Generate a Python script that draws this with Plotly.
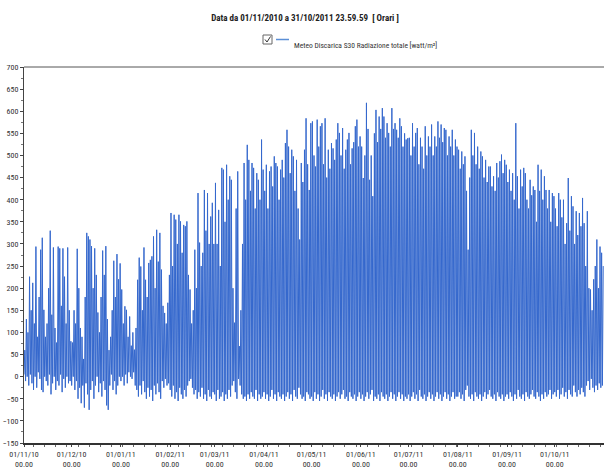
import pandas as pd
import plotly.graph_objects as go

# Daily peak (midday) global radiation, W/m2, Nov 2010 -> Oct 2011
peak_nov = [60, 130, 100, 226, 150, 212, 120, 294, 90, 180, 287, 314, 151, 90, 120, 200, 330, 140, 292, 110,
            77, 294, 290, 160, 290, 226, 120, 292, 150, 80]
peak_dec = [77, 150, 120, 289, 200, 110, 90, 40, 180, 325, 317, 310, 295, 200, 290, 230, 145, 100, 180, 285,
            230, 295, 130, 60, 90, 150, 262, 180, 277, 220, 256]
peak_jan = [197, 120, 159, 151, 90, 136, 70, 100, 61, 110, 219, 269, 249, 150, 292, 219, 180, 257, 264, 272,
            317, 200, 332, 260, 325, 242, 160, 144, 120, 167, 230]
peak_feb = [370, 250, 366, 355, 300, 366, 351, 280, 343, 340, 351, 230, 197, 120, 150, 287, 200, 415, 303, 250,
            280, 422, 330, 415, 300, 362, 393, 300]
peak_mar = [438, 300, 377, 250, 472, 468, 350, 479, 400, 453, 445, 200, 122, 380, 464, 69, 150, 300, 483, 400,
            524, 490, 420, 483, 472, 380, 460, 445, 400, 536, 468]
peak_apr = [420, 479, 380, 464, 475, 430, 498, 483, 475, 400, 468, 490, 450, 528, 558, 520, 460, 513, 498, 420,
            490, 380, 310, 483, 440, 513, 584, 480, 422, 573]
peak_may = [577, 500, 475, 581, 520, 566, 573, 480, 584, 450, 513, 470, 528, 516, 490, 536, 573, 551, 500, 562,
            470, 513, 536, 551, 480, 516, 530, 566, 581, 520, 543]
peak_jun = [520, 449, 500, 619, 560, 445, 500, 408, 550, 603, 530, 588, 560, 607, 588, 540, 573, 551, 520, 607,
            560, 573, 558, 540, 584, 566, 520, 550, 536, 539]
peak_jul = [540, 500, 573, 520, 551, 562, 480, 540, 520, 470, 566, 500, 543, 520, 570, 500, 543, 520, 577, 540,
            570, 530, 562, 558, 500, 543, 520, 558, 500, 536, 520]
peak_aug = [513, 470, 509, 480, 498, 420, 287, 450, 558, 500, 551, 480, 520, 470, 509, 498, 450, 490, 440, 475,
            475, 430, 453, 420, 483, 450, 487, 502, 460, 490, 479]
peak_sep = [440, 468, 420, 460, 400, 573, 453, 380, 468, 430, 472, 460, 400, 380, 445, 410, 430, 422, 350, 479,
            420, 468, 400, 453, 422, 380, 422, 350, 415, 408]
peak_oct = [380, 340, 415, 400, 360, 400, 300, 347, 449, 330, 408, 385, 300, 374, 320, 370, 340, 404, 347, 250,
            374, 200, 197, 150, 220, 250, 310, 200, 294, 280, 250]

# Night-time minimum values, W/m2
low_nov = [5, -10, 0, -20, 5, -15, -30, 0, -25, 10, -5, -30, -35, 0, -10, -20, 5, -40, -15, 0,
           -30, -10, -20, 5, -35, -5, -25, 0, -15, -10]
low_dec = [-20, 0, -30, -10, -50, -25, -60, -20, -70, -15, -40, -75, -30, -10, -50, -20, 0, -35, -15, -45,
           -10, -30, -65, -75, -20, 5, -30, -10, -40, -20, 0]
low_jan = [-10, 0, -20, 5, -15, 10, 0, -5, 10, -20, -30, -45, -20, -40, -10, -35, -50, -25, -45, -30,
           -55, -20, -40, -15, -35, -50, -10, -25, -5, -20, -15]
low_feb = [-30, -45, -20, -50, -35, -55, -25, -40, -50, -30, -45, -20, -10, -5, -25, -40, -30, -50, -35, -45,
           -25, -50, -40, -55, -30, -45, -50, -35]
low_mar = [-40, -55, -30, -50, -45, -35, -55, -40, -50, -30, -45, -20, -10, -35, -50, -5, -20, -40, -50, -45,
           -55, -40, -50, -35, -45, -50, -30, -55, -40, -50, -45]
low_apr = [-35, -50, -40, -55, -45, -30, -50, -40, -55, -35, -45, -50, -40, -55, -45, -35, -50, -40, -55, -30,
           -45, -50, -25, -40, -50, -45, -55, -35, -40, -50]
low_may = [-45, -55, -35, -50, -40, -55, -45, -30, -50, -40, -55, -35, -45, -50, -40, -55, -45, -35, -50, -40,
           -30, -50, -45, -55, -35, -45, -50, -40, -55, -45, -35]
low_jun = [-50, -40, -55, -45, -35, -50, -40, -30, -55, -45, -50, -40, -55, -35, -45, -50, -40, -55, -45, -35,
           -50, -40, -55, -45, -35, -50, -40, -55, -45, -50]
low_jul = [-40, -55, -45, -35, -50, -40, -55, -30, -45, -50, -40, -55, -45, -35, -50, -40, -55, -45, -35, -50,
           -40, -55, -45, -35, -50, -40, -55, -45, -35, -50, -45]
low_aug = [-45, -35, -50, -40, -55, -30, -20, -45, -50, -40, -55, -35, -45, -50, -40, -55, -45, -35, -50, -40,
           -30, -45, -50, -40, -55, -35, -45, -50, -40, -55, -45]
low_sep = [-40, -50, -35, -45, -55, -40, -50, -30, -45, -50, -40, -55, -35, -45, -50, -40, -30, -45, -50, -35,
           -45, -55, -40, -50, -35, -45, -40, -30, -50, -40]
low_oct = [-35, -45, -30, -50, -40, -25, -45, -35, -50, -30, -40, -45, -20, -35, -45, -30, -40, -25, -35, -45,
           -20, -10, -30, -5, -25, -35, -20, -30, -15, -25, -20]

month_ticks = ["2010-11-01", "2010-12-01", "2011-01-01", "2011-02-01", "2011-03-01", "2011-04-01",
               "2011-05-01", "2011-06-01", "2011-07-01", "2011-08-01", "2011-09-01", "2011-10-01"]
month_labels = ["01/11/10<br>00.00", "01/12/10<br>00.00", "01/01/11<br>00.00", "01/02/11<br>00.00",
                "01/03/11<br>00.00", "01/04/11<br>00.00", "01/05/11<br>00.00", "01/06/11<br>00.00",
                "01/07/11<br>00.00", "01/08/11<br>00.00", "01/09/11<br>00.00", "01/10/11<br>00.00"]

series_name = "Meteo Discarica S30 Radiazione totale [watt/m²]"
title_text = "Data da 01/11/2010 a 31/10/2011 23.59.59  [ Orari ]"

peaks = (peak_nov + peak_dec + peak_jan + peak_feb + peak_mar + peak_apr + peak_may + peak_jun +
         peak_jul + peak_aug + peak_sep + peak_oct)
lows = (low_nov + low_dec + low_jan + low_feb + low_mar + low_apr + low_may + low_jun +
        low_jul + low_aug + low_sep + low_oct)

days = pd.date_range("2010-11-01", periods=len(peaks), freq="D")
xs, ys = [], []
for d, lo, pk in zip(days, lows, peaks):
    xs.append(d)
    ys.append(lo)
    xs.append(d + pd.Timedelta(hours=12))
    ys.append(pk)

FONT = "Roboto Condensed, DejaVu Sans Condensed, Liberation Sans"
W, H = 604, 469
L, T, R, B = 24, 67, 0, 26
PW, PH = W - L - R, H - T - B


def px(xw):
    return (xw - L) / PW


def py(yw):
    return (H - B - yw) / PH


fig = go.Figure()
fig.add_trace(go.Scatter(
    x=xs, y=ys, mode="lines",
    line=dict(color="#3568cd", width=1),
    name=series_name, showlegend=False,
))

fig.update_layout(
    width=W, height=H,
    margin=dict(l=L, r=R, t=T, b=B, autoexpand=False),
    paper_bgcolor="white", plot_bgcolor="white",
    title=dict(text="<b>" + title_text + "</b>",
               x=305 / W, xanchor="center", y=1 - 18 / H, yanchor="middle",
               font=dict(family=FONT, size=9, color="#222")),
    font=dict(family=FONT, size=8, color="#333"),
)
fig.update_xaxes(
    range=["2010-11-01", "2011-11-01"], automargin=False,
    tickmode="array", tickvals=month_ticks, ticktext=month_labels,
    ticks="outside", ticklen=2, tickcolor="#444",
    showline=True, linecolor="#333", linewidth=2,
    showgrid=False, zeroline=False,
    minor=dict(ticks="outside", ticklen=2, dtick=7 * 86400000, tickcolor="#666"),
    tickfont=dict(family=FONT, size=8, color="#333"),
)
fig.update_yaxes(
    range=[-150, 700], tickmode="linear", tick0=-150, dtick=50, automargin=False,
    ticks="outside", ticklen=3, tickcolor="#444",
    showline=True, linecolor="#444", linewidth=1,
    showgrid=False, zeroline=False,
    minor=dict(ticks="outside", ticklen=2, dtick=25, tickcolor="#777"),
    tickfont=dict(family=FONT, size=8, color="#333"),
)
# top frame line
fig.add_shape(type="line", xref="paper", yref="paper", x0=0, x1=1, y0=1, y1=1,
              line=dict(color="#555", width=1))
# legend: checkbox with tick, line sample and label
fig.add_shape(type="rect", xref="paper", yref="paper",
              x0=px(263), x1=px(272), y0=py(44), y1=py(35),
              line=dict(color="#666", width=1), fillcolor="white")
fig.add_shape(type="path", xref="paper", yref="paper",
              path=f"M {px(265)} {py(39.5)} L {px(267)} {py(42)} L {px(270.5)} {py(36.5)}",
              line=dict(color="#333", width=1))
fig.add_shape(type="line", xref="paper", yref="paper",
              x0=px(276), x1=px(289), y0=py(39.5), y1=py(39.5),
              line=dict(color="#5b8fd6", width=1.5))
fig.add_annotation(text=series_name, xref="paper", yref="paper",
                   x=px(292), y=py(39.5), xanchor="left", showarrow=False,
                   font=dict(family=FONT, size=7.5, color="#333"))

# remove the default page margin so the figure starts at the window corner
fig.write_html("out.html", config={"displayModeBar": False},
               post_script="document.body.style.margin='0';")
